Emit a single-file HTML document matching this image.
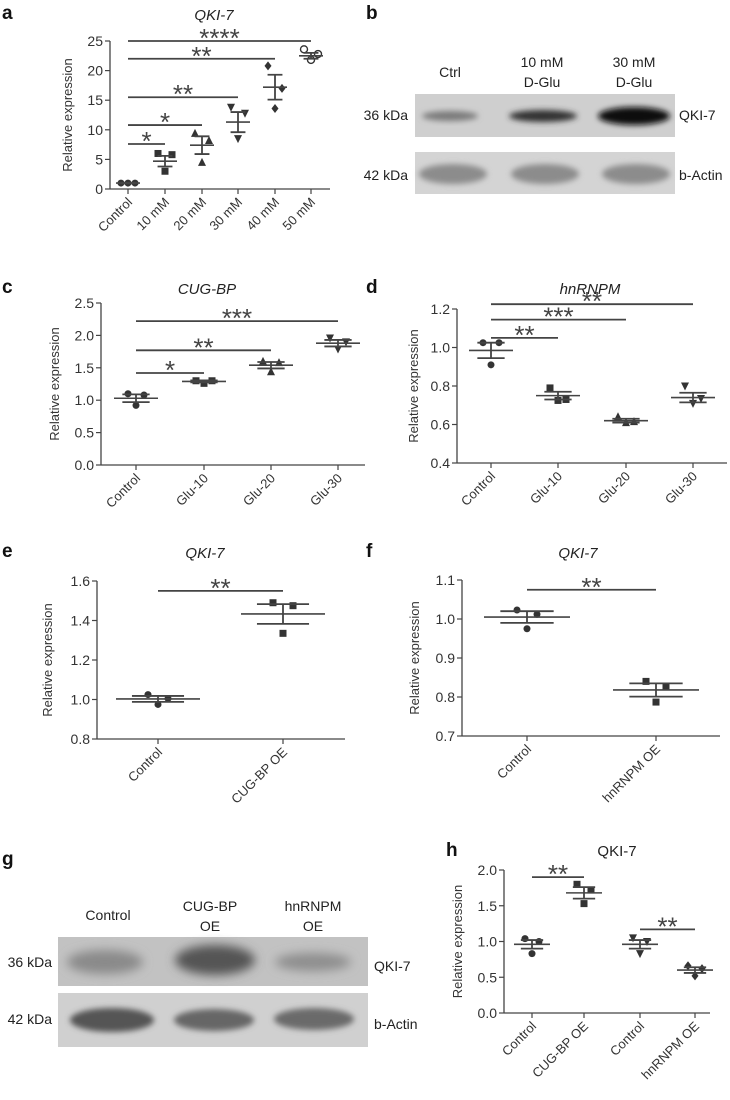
<!DOCTYPE html>
<html><head><meta charset="utf-8">
<style>
html,body{margin:0;padding:0;background:#fff;}
svg{display:block;font-family:"Liberation Sans",sans-serif;}
</style></head>
<body>
<svg id="fig" width="730" height="1100" viewBox="0 0 730 1100" xmlns="http://www.w3.org/2000/svg">
<defs>
<filter id="blur3" x="-20%" y="-50%" width="140%" height="200%"><feGaussianBlur stdDeviation="3"/></filter>
<filter id="blur5" x="-20%" y="-80%" width="140%" height="260%"><feGaussianBlur stdDeviation="5"/></filter>
</defs>
<g font-weight="bold" font-size="19" fill="#111">
<text x="2" y="19">a</text>
<text x="366" y="19">b</text>
<text x="2" y="293">c</text>
<text x="366" y="293">d</text>
<text x="2" y="557">e</text>
<text x="366" y="557">f</text>
<text x="2" y="865">g</text>
<text x="446" y="856">h</text>
</g>

<!-- Blot b -->
<g font-size="14" fill="#222">
<text x="450" y="77" text-anchor="middle">Ctrl</text>
<text x="542" y="67" text-anchor="middle">10 mM</text>
<text x="542" y="87" text-anchor="middle">D-Glu</text>
<text x="634" y="67" text-anchor="middle">30 mM</text>
<text x="634" y="87" text-anchor="middle">D-Glu</text>
<text x="408" y="120" text-anchor="end">36 kDa</text>
<text x="408" y="180" text-anchor="end">42 kDa</text>
<text x="679" y="120">QKI-7</text>
<text x="679" y="180">b-Actin</text>
<rect x="415" y="94" width="260" height="43" fill="#cfcfcf"/>
<ellipse cx="450" cy="116" rx="28" ry="5" fill="#7a7a7a" filter="url(#blur3)"/>
<ellipse cx="543" cy="116" rx="34" ry="6" fill="#333" filter="url(#blur3)"/>
<ellipse cx="634" cy="116" rx="36" ry="9" fill="#111" filter="url(#blur3)"/>
<rect x="415" y="152" width="260" height="42" fill="#d4d4d4"/>
<ellipse cx="453" cy="174" rx="34" ry="10" fill="#8c8c8c" filter="url(#blur3)"/>
<ellipse cx="545" cy="174" rx="34" ry="10" fill="#8c8c8c" filter="url(#blur3)"/>
<ellipse cx="636" cy="174" rx="34" ry="10" fill="#8c8c8c" filter="url(#blur3)"/>
</g>

<!-- Blot g -->
<g font-size="14" fill="#222">
<text x="108" y="920" text-anchor="middle">Control</text>
<text x="210" y="911" text-anchor="middle">CUG-BP</text>
<text x="210" y="931" text-anchor="middle">OE</text>
<text x="313" y="911" text-anchor="middle">hnRNPM</text>
<text x="313" y="931" text-anchor="middle">OE</text>
<text x="52" y="967" text-anchor="end">36 kDa</text>
<text x="52" y="1024" text-anchor="end">42 kDa</text>
<text x="374" y="971">QKI-7</text>
<text x="374" y="1029">b-Actin</text>
<rect x="58" y="937" width="310" height="49" fill="#c2c2c2"/>
<ellipse cx="105" cy="962" rx="38" ry="12" fill="#8a8a8a" filter="url(#blur5)"/>
<ellipse cx="215" cy="960" rx="40" ry="15" fill="#555" filter="url(#blur5)"/>
<ellipse cx="313" cy="962" rx="38" ry="9" fill="#8e8e8e" filter="url(#blur5)"/>
<rect x="58" y="993" width="310" height="54" fill="#d0d0d0"/>
<ellipse cx="112" cy="1020" rx="42" ry="12" fill="#555" filter="url(#blur3)"/>
<ellipse cx="214" cy="1020" rx="40" ry="11" fill="#666" filter="url(#blur3)"/>
<ellipse cx="314" cy="1019" rx="40" ry="11" fill="#6a6a6a" filter="url(#blur3)"/>
</g>
<g id="charts"></g>
</svg>
<script>
// ---- Panel a data ----
const aCats = ["Control","10 mM","20 mM","30 mM","40 mM","50 mM"];
const aMeans = [1, 4.7, 7.4, 11.3, 17.2, 22.5];
const aSems = [0.05, 0.9, 1.5, 1.7, 2.1, 0.5];
const aPts = [[1,1,1],[6,3,5.8],[9.4,4.5,8.2],[13.8,8.5,12.8],[20.8,13.6,17],[23.6,21.8,22.8]];
const aSig = [[0,5,25,"****"],[0,4,22,"**"],[0,3,15.5,"**"],[0,2,10.8,"*"],[0,1,7.6,"*"]];
const aTicks = [0,5,10,15,20,25];
const aTickLabels = ["0","5","10","15","20","25"];
// ---- Panel c data ----
const cCats = ["Control","Glu-10","Glu-20","Glu-30"];
const cMeans = [1.03, 1.29, 1.54, 1.88];
const cSems = [0.06, 0.015, 0.05, 0.05];
const cPts = [[1.1,0.92,1.08],[1.3,1.26,1.3],[1.6,1.44,1.58],[1.96,1.79,1.9]];
const cSig = [[0,3,2.22,"***"],[0,2,1.77,"**"],[0,1,1.42,"*"]];
const cTicks = [0,0.5,1,1.5,2,2.5];
const cTickLabels = ["0.0","0.5","1.0","1.5","2.0","2.5"];
// ---- Panel d data ----
const dCats = ["Control","Glu-10","Glu-20","Glu-30"];
const dMeans = [0.985, 0.75, 0.62, 0.74];
const dSems = [0.04, 0.02, 0.01, 0.025];
const dPts = [[1.025,0.91,1.025],[0.79,0.725,0.73],[0.64,0.61,0.615],[0.8,0.71,0.735]];
const dSig = [[0,3,1.225,"**"],[0,2,1.145,"***"],[0,1,1.05,"**"]];
const dTicks = [0.4,0.6,0.8,1.0,1.2];
const dTickLabels = ["0.4","0.6","0.8","1.0","1.2"];
// ---- Panel e data ----
const eCats = ["Control","CUG-BP OE"];
const eMeans = [1.003, 1.433];
const eSems = [0.015, 0.05];
const ePts = [[1.025,0.975,1.005],[1.49,1.335,1.475]];
const eSig = [[0,1,1.55,"**"]];
const eTicks = [0.8,1.0,1.2,1.4,1.6];
const eTickLabels = ["0.8","1.0","1.2","1.4","1.6"];
// ---- Panel f data ----
const fCats = ["Control","hnRNPM OE"];
const fMeans = [1.005, 0.818];
const fSems = [0.015, 0.017];
const fPts = [[1.023,0.975,1.012],[0.84,0.787,0.826]];
const fSig = [[0,1,1.075,"**"]];
const fTicks = [0.7,0.8,0.9,1.0,1.1];
const fTickLabels = ["0.7","0.8","0.9","1.0","1.1"];
// ---- Panel h data ----
const hCats = ["Control","CUG-BP OE","Control","hnRNPM OE"];
const hMeans = [0.96, 1.68, 0.96, 0.6];
const hSems = [0.06, 0.08, 0.06, 0.04];
const hPts = [[1.04,0.83,1.0],[1.8,1.53,1.72],[1.05,0.83,1.0],[0.66,0.52,0.62]];
const hSig = [[0,1,1.9,"**"],[2,3,1.17,"**"]];
const hTicks = [0,0.5,1,1.5,2];
const hTickLabels = ["0.0","0.5","1.0","1.5","2.0"];

const NS = "http://www.w3.org/2000/svg";
const root = document.getElementById("charts");
function mk(tag, attrs, parent){
  const e = document.createElementNS(NS, tag);
  for (const k in attrs) e.setAttribute(k, attrs[k]);
  parent.appendChild(e);
  return e;
}
function marker(g, shape, x, y, r){
  let e;
  if (shape === "circle") e = mk("circle",{cx:x,cy:y,r:r,fill:"#333"},g);
  else if (shape === "open") e = mk("circle",{cx:x,cy:y,r:r,fill:"#fff",stroke:"#333","stroke-width":1.4},g);
  else if (shape === "square") e = mk("rect",{x:x-r,y:y-r,width:2*r,height:2*r,fill:"#333"},g);
  else if (shape === "tri") e = mk("polygon",{points:`${x},${y-r-1} ${x-r-0.5},${y+r} ${x+r+0.5},${y+r}`,fill:"#333"},g);
  else if (shape === "dtri") e = mk("polygon",{points:`${x},${y+r+1} ${x-r-0.5},${y-r} ${x+r+0.5},${y-r}`,fill:"#333"},g);
  else e = mk("polygon",{points:`${x},${y-r-1} ${x-r},${y} ${x},${y+r+1} ${x+r},${y}`,fill:"#333"},g);
  return e;
}
function chart(name, L, cats, means, sems, pts, sig, ticks, tickLabels){
  const g = mk("g",{},root);
  
  
  const ymin = ticks[0], ymax = ticks[ticks.length-1];
  const Y = v => L.y0 + (v - ymin) / (ymax - ymin) * (L.y1 - L.y0);
  const X = i => L.cx[i];
  const col = "#444";
  const t = mk("text",{x:L.tx,y:L.ty,"text-anchor":"middle","font-size":15,fill:"#222","font-style":L.italic?"italic":"normal"},g);
  t.textContent = L.title;
  
  
  const ya = mk("line",{x1:L.ax,y1:L.y0,x2:L.ax,y2:L.y1,stroke:col,"stroke-width":1.3},g);
  
  
  const xa = mk("line",{x1:L.ax,y1:L.y0,x2:L.axEnd,y2:L.y0,stroke:col,"stroke-width":1.3},g);
  
  
  ticks.forEach((v,i)=>{
    mk("line",{x1:L.ax-5,y1:Y(v),x2:L.ax,y2:Y(v),stroke:col,"stroke-width":1.2},g);
    const tl = mk("text",{x:L.ax-7,y:Y(v)+5,"text-anchor":"end","font-size":14,fill:"#333"},g);
    tl.textContent = tickLabels[i];
    
    
  });
  const yl = mk("text",{x:0,y:0,"text-anchor":"middle","font-size":13,fill:"#333",transform:`translate(${L.ylx},${(L.y0+L.y1)/2}) rotate(-90)`},g);
  yl.textContent = "Relative expression";
  
  
  cats.forEach((c,i)=>{
    mk("line",{x1:X(i),y1:L.y0,x2:X(i),y2:L.y0+5,stroke:col,"stroke-width":1.2},g);
    const xl = mk("text",{x:0,y:0,"text-anchor":"end","font-size":13,fill:"#333",transform:`translate(${X(i)+5},${L.y0+14}) rotate(-45)`},g);
    xl.textContent = c;
    
    
  });
  cats.forEach((c,i)=>{
    const gg = mk("g",{},g);
    
    
    pts[i].forEach((v,j)=>{
      const m = marker(gg, L.shapes[i], X(i) + (j-1)*L.jit, Y(v), L.r);
      
      
    });
    const ml = mk("line",{x1:X(i)-L.mw,y1:Y(means[i]),x2:X(i)+L.mw,y2:Y(means[i]),stroke:col,"stroke-width":1.6},gg);
    
    
    const cw = L.mw*0.62;
    const top = Y(means[i]+sems[i]), bot = Y(means[i]-sems[i]);
    const eb = mk("path",{d:`M${X(i)},${top}V${bot}M${X(i)-cw},${top}H${X(i)+cw}M${X(i)-cw},${bot}H${X(i)+cw}`,stroke:col,"stroke-width":1.8,fill:"none"},gg);
    
    
  });
  sig.forEach(s=>{
    const y = Y(s[2]);
    const sl = mk("line",{x1:X(s[0]),y1:y,x2:X(s[1]),y2:y,stroke:col,"stroke-width":1.8},g);
    
    
    const st = mk("text",{x:(X(s[0])+X(s[1]))/2,y:y+6,"text-anchor":"middle","font-size":26,fill:"#444"},g);
    st.textContent = s[3];
    
    
  });
}
chart("chart-a-qki7", {title:"QKI-7",italic:true,tx:214,ty:20,ax:110,axEnd:330,y0:189,y1:41,ylx:72,
  cx:[128,165,202,238,275,311],shapes:["circle","square","tri","dtri","diamond","open"],jit:7,r:3.5,mw:12},
  aCats,aMeans,aSems,aPts,aSig,aTicks,aTickLabels);
chart("chart-c-cugbp", {title:"CUG-BP",italic:true,tx:207,ty:294,ax:101,axEnd:365,y0:465,y1:303,ylx:59,
  cx:[136,204,271,338],shapes:["circle","square","tri","dtri"],jit:8,r:3.5,mw:22},
  cCats,cMeans,cSems,cPts,cSig,cTicks,cTickLabels);
chart("chart-d-hnrnpm", {title:"hnRNPM",italic:true,tx:590,ty:294,ax:457,axEnd:727,y0:463,y1:309,ylx:418,
  cx:[491,558,626,693],shapes:["circle","square","tri","dtri"],jit:8,r:3.5,mw:22},
  dCats,dMeans,dSems,dPts,dSig,dTicks,dTickLabels);
chart("chart-e-qki7", {title:"QKI-7",italic:true,tx:205,ty:558,ax:97,axEnd:345,y0:739,y1:581,ylx:52,
  cx:[158,283],shapes:["circle","square"],jit:10,r:3.5,mw:42},
  eCats,eMeans,eSems,ePts,eSig,eTicks,eTickLabels);
chart("chart-f-qki7", {title:"QKI-7",italic:true,tx:578,ty:558,ax:462,axEnd:720,y0:736,y1:580,ylx:419,
  cx:[527,656],shapes:["circle","square"],jit:10,r:3.5,mw:43},
  fCats,fMeans,fSems,fPts,fSig,fTicks,fTickLabels);
chart("chart-h-qki7", {title:"QKI-7",italic:false,tx:617,ty:856,ax:504,axEnd:710,y0:1013,y1:870,ylx:462,
  cx:[532,584,640,695],shapes:["circle","square","dtri","diamond"],jit:7,r:3.5,mw:18},
  hCats,hMeans,hSems,hPts,hSig,hTicks,hTickLabels);
</script>
</body></html>
